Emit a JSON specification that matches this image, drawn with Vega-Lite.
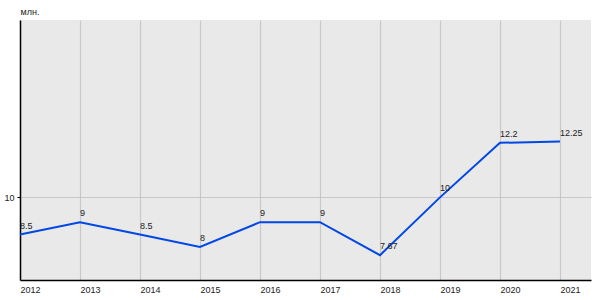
{
  "$schema": "https://vega.github.io/schema/vega-lite/v6.json",
  "width": 571,
  "height": 260,
  "autosize": "none",
  "padding": {"left": 20, "top": 20, "right": 9, "bottom": 20},
  "background": "white",
  "config": {
    "view": {"fill": "#e9e9e9", "stroke": null},
    "font": "Liberation Sans"
  },
  "data": {
    "values": [
      {"year": 2012, "value": 8.5, "label": "8.5"},
      {"year": 2013, "value": 9, "label": "9"},
      {"year": 2014, "value": 8.5, "label": "8.5"},
      {"year": 2015, "value": 8, "label": "8"},
      {"year": 2016, "value": 9, "label": "9"},
      {"year": 2017, "value": 9, "label": "9"},
      {"year": 2018, "value": 7.67, "label": "7.67"},
      {"year": 2019, "value": 10, "label": "10"},
      {"year": 2020, "value": 12.2, "label": "12.2"},
      {"year": 2021, "value": 12.25, "label": "12.25"}
    ]
  },
  "encoding": {
    "x": {
      "field": "year",
      "type": "quantitative",
      "scale": {"domain": [2012, 2021.517], "nice": false, "zero": false},
      "axis": {
        "values": [2012, 2013, 2014, 2015, 2016, 2017, 2018, 2019, 2020, 2021],
        "format": "d",
        "title": null,
        "labelAlign": "left",
        "labelFontSize": 9,
        "labelColor": "#222",
        "labelPadding": 5,
        "ticks": false,
        "domainColor": "#000",
        "domainWidth": 1.5,
        "grid": true,
        "gridColor": "#c8c8c8",
        "gridWidth": 1.2,
        "labelFlush": false,
        "labelOverlap": false
      }
    },
    "y": {
      "field": "value",
      "type": "quantitative",
      "scale": {"domain": [6.67, 17.15], "nice": false, "zero": false},
      "axis": {
        "values": [10],
        "title": "млн.",
        "titleAngle": 0,
        "titleAlign": "left",
        "titleBaseline": "bottom",
        "titleX": 0,
        "titleY": -4,
        "titleFontSize": 9,
        "titleFontWeight": "normal",
        "titleColor": "#222",
        "labelFontSize": 9,
        "labelColor": "#222",
        "labelPadding": 3,
        "tickSize": 3,
        "tickColor": "#000",
        "domainColor": "#000",
        "domainWidth": 1.5,
        "grid": true,
        "gridColor": "#c8c8c8",
        "gridWidth": 1.2
      }
    }
  },
  "layer": [
    {
      "mark": {"type": "line", "color": "#0047e6", "strokeWidth": 2}
    },
    {
      "mark": {"type": "text", "align": "left", "baseline": "alphabetic", "dy": -6, "dx": 0, "fontSize": 9, "color": "#222"},
      "encoding": {"text": {"field": "label"}}
    }
  ]
}
